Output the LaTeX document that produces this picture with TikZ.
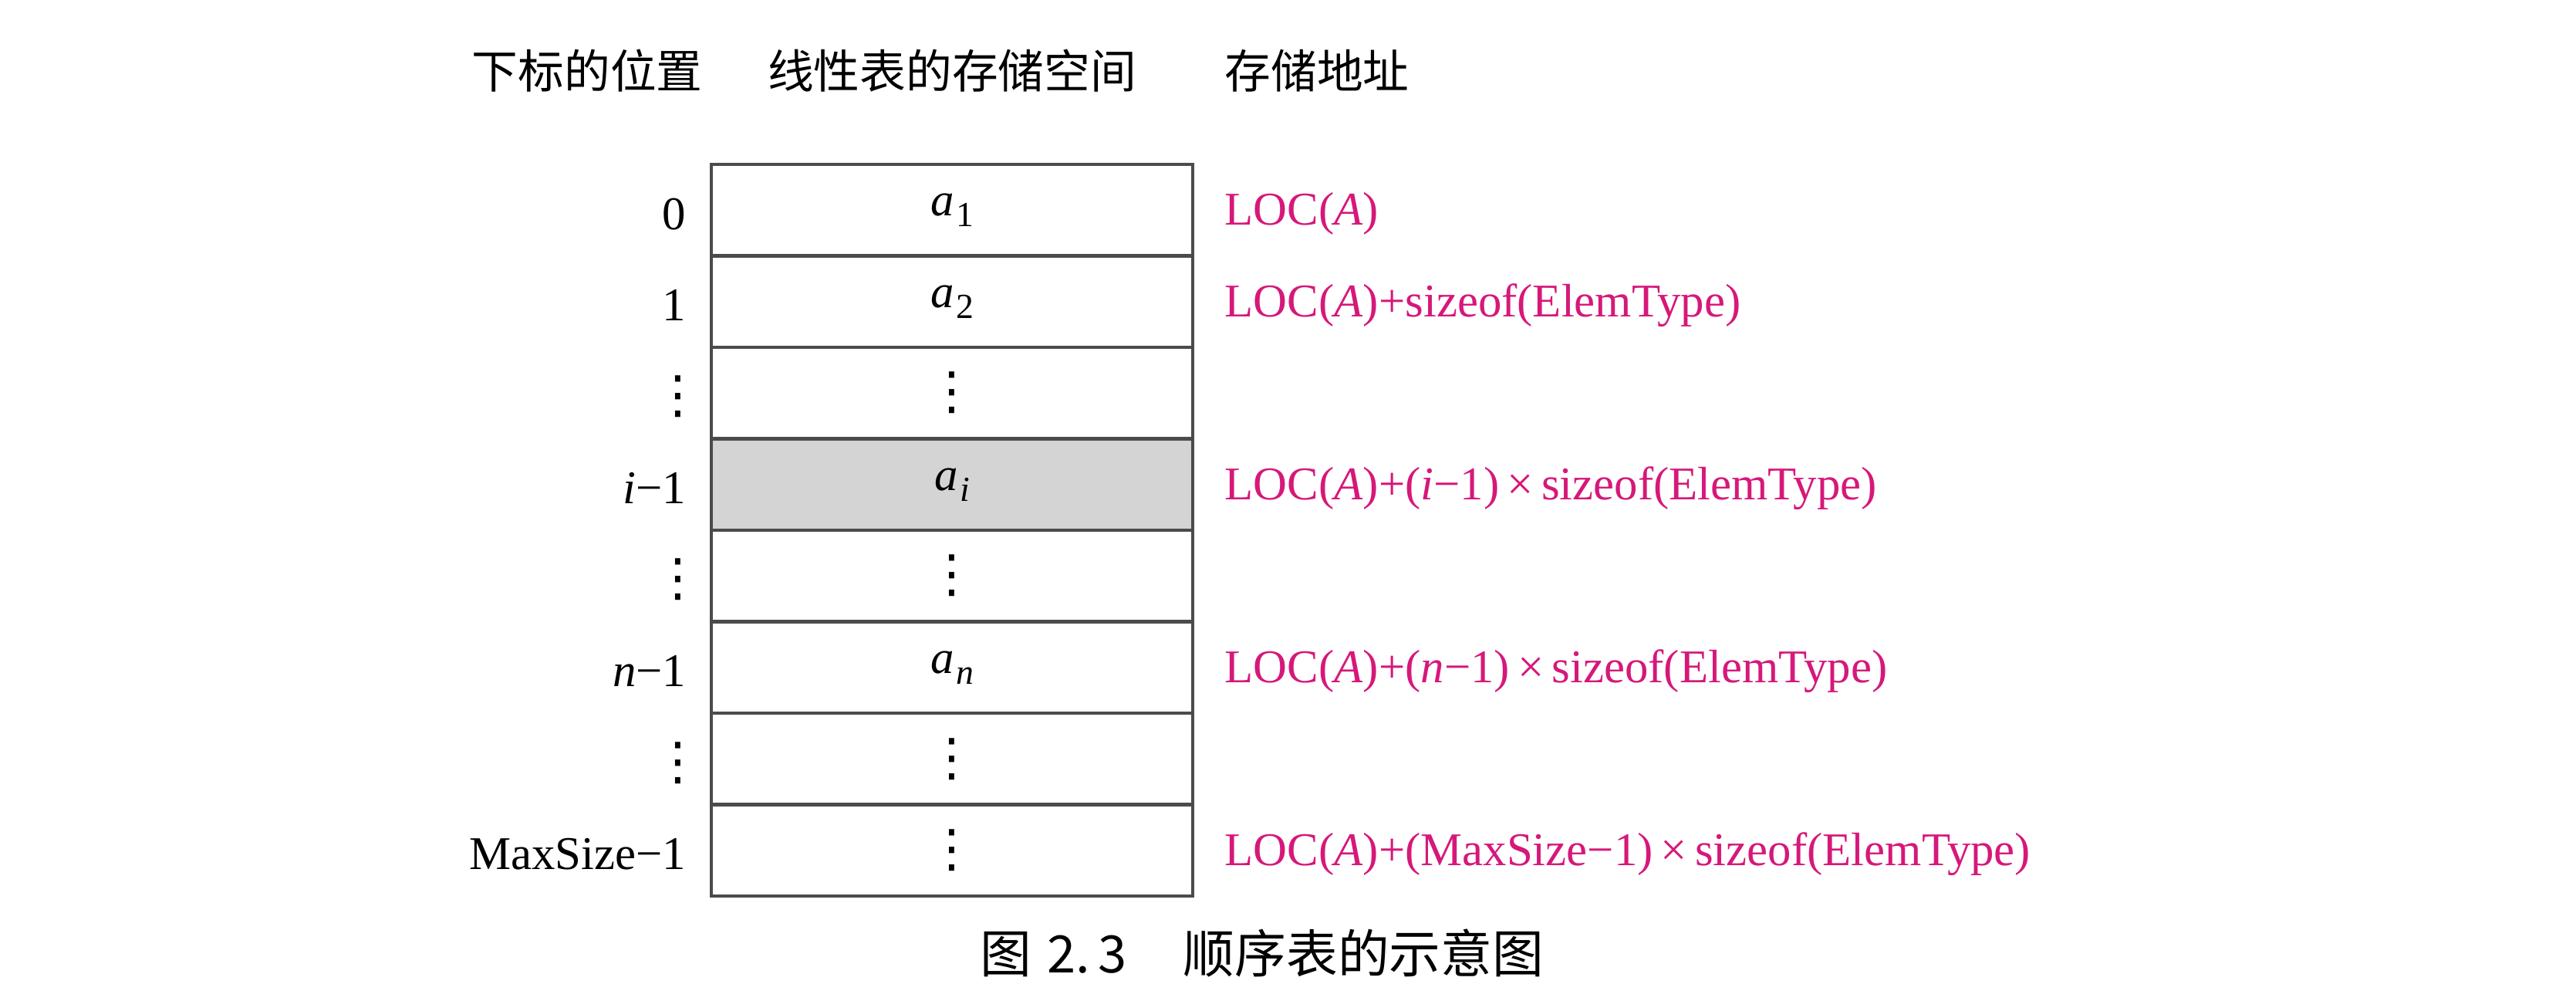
\documentclass[tikz,border=0pt]{standalone}
\usepackage{fontspec}
\setmainfont{Liberation Serif}
\newfontfamily\cjk{Noto Sans CJK SC}
\newfontfamily\dotfont{DejaVu Sans}
\usetikzlibrary{positioning}
\definecolor{addrpink}{RGB}{214,24,122}
\definecolor{cellgray}{RGB}{212,212,212}
\definecolor{linegray}{RGB}{75,75,75}
\newcommand{\elem}[1]{\textit{a}\kern0.04em\raisebox{-0.5ex}{\fontsize{13}{14}\selectfont #1}}
\newcommand{\skipdots}{{\dotfont\fontsize{19}{20}\selectfont ⋮}}

\begin{document}
\begin{tikzpicture}[
  node distance=0pt,
  cell/.style={rectangle, draw=linegray, line width=1.2pt, outer sep=0pt, minimum width=6.24cm,
               minimum height=1.185cm, inner sep=0pt, font=\fontsize{17.3}{20}\selectfont},
  idx/.style={inner sep=0pt, yshift=-0.05cm, font=\fontsize{17.3}{20}\selectfont},
  addr/.style={inner sep=0pt, yshift=-0.05cm, text=addrpink, font=\fontsize{17.3}{20}\selectfont},
  head/.style={inner sep=0pt, font=\cjk\fontsize{17}{20}\selectfont},
  caption/.style={inner sep=0pt, font=\cjk\fontsize{19}{22}\selectfont}
]
\useasboundingbox (0,0) rectangle (33.39,12.97);

\node[cell] (c0) at (12.34,10.2475) {\elem{1}};
\node[cell, below=of c0] (c1) {\elem{2}};
\node[cell, below=of c1] (c2) {\skipdots};
\node[cell, below=of c2, fill=cellgray] (c3) {\elem{\textit{i}}};
\node[cell, below=of c3] (c4) {\skipdots};
\node[cell, below=of c4] (c5) {\elem{\textit{n}}};
\node[cell, below=of c5] (c6) {\skipdots};
\node[cell, below=of c6] (c7) {\skipdots};

\node[idx, left=0.32cm of c0] (i0) {0};
\node[idx, left=0.32cm of c1] (i1) {1};
\node[idx, left=0.09cm of c2] (i2) {\skipdots};
\node[idx, left=0.32cm of c3] (i3) {\textit{i}−1};
\node[idx, left=0.09cm of c4] (i4) {\skipdots};
\node[idx, left=0.32cm of c5] (i5) {\textit{n}−1};
\node[idx, left=0.09cm of c6] (i6) {\skipdots};
\node[idx, left=0.32cm of c7] (i7) {MaxSize−1};

\node[addr, right=0.41cm of c0] (a0) {LOC(\textit{A})};
\node[addr, right=0.41cm of c1] (a1) {LOC(\textit{A})+sizeof(ElemType)};
\node[addr, right=0.41cm of c3] (a3) {LOC(\textit{A})+(\textit{i}−1)\,×\,sizeof(ElemType)};
\node[addr, right=0.41cm of c5] (a5) {LOC(\textit{A})+(\textit{n}−1)\,×\,sizeof(ElemType)};
\node[addr, right=0.41cm of c7] (a7) {LOC(\textit{A})+(MaxSize−1)\,×\,sizeof(ElemType)};

\node[head, above=0.93cm of c0] (h2) {线性表的存储空间};
\node[head, left=0.83cm of h2] (h1) {下标的位置};
\node[head, anchor=west] (h3) at (a0.west |- h2) {存储地址};

\node[caption] (cap) at (16.36,0.62) {图\hspace{0.3em}2.\hspace{0.15em}3\hspace{1.1em}顺序表的示意图};

\end{tikzpicture}
\end{document}
